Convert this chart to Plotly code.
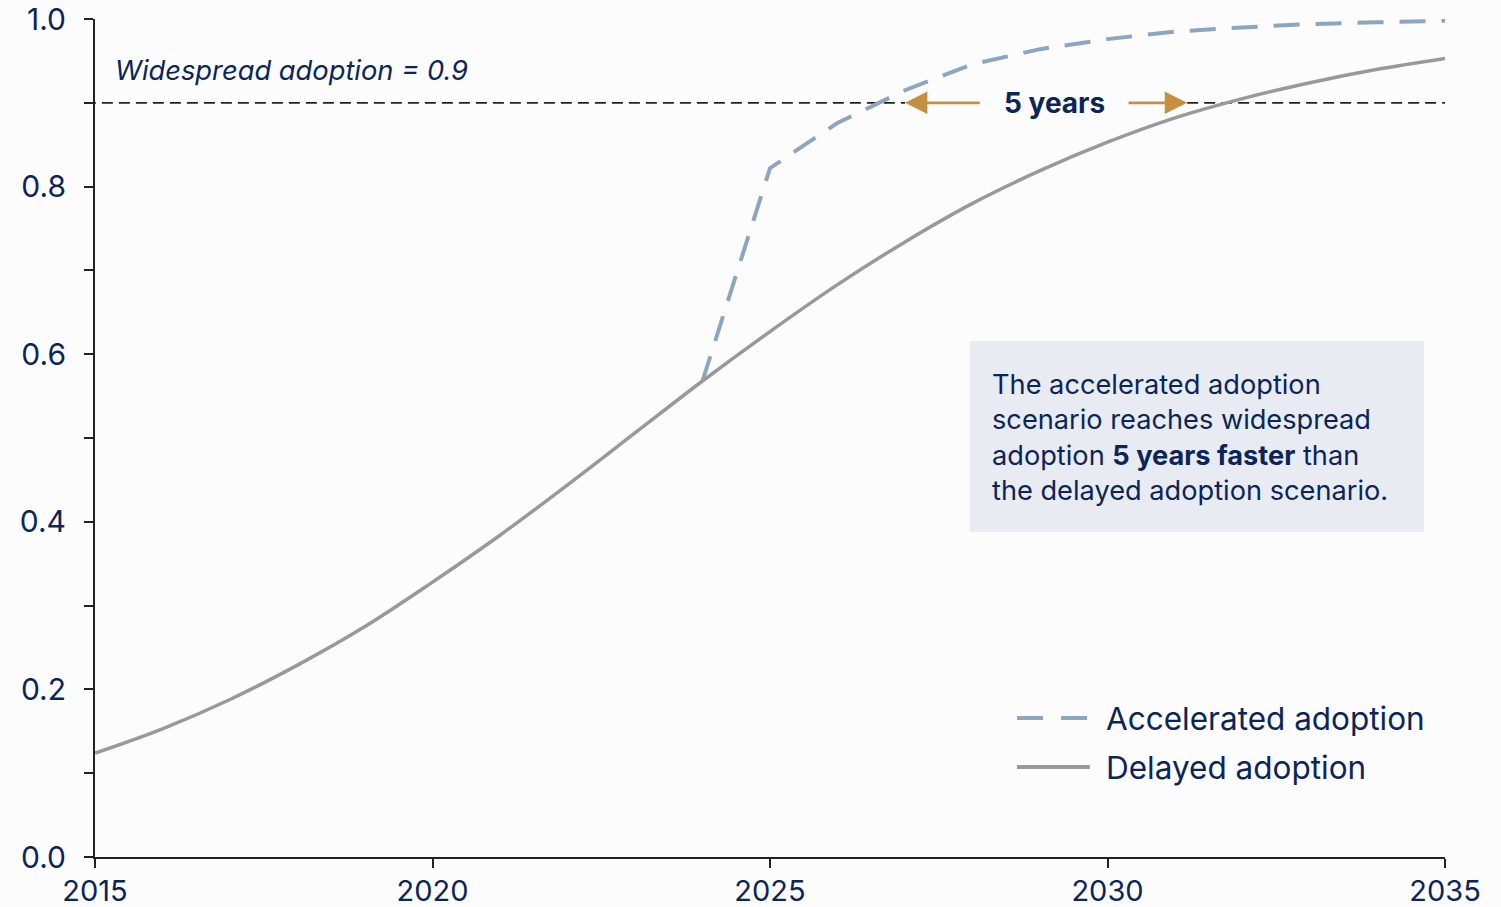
import plotly.graph_objects as go

# Adoption share by year for the two scenarios
years = list(range(2015, 2036))
delayed = [0.124, 0.153, 0.188, 0.229, 0.275, 0.328, 0.384, 0.444, 0.506, 0.568,
           0.627, 0.683, 0.734, 0.780, 0.819, 0.853, 0.882, 0.905, 0.924, 0.940, 0.953]
accel_years = list(range(2024, 2036))
accelerated = [0.568, 0.822, 0.876, 0.915, 0.946, 0.964, 0.976, 0.985, 0.990,
               0.994, 0.996, 0.998]

threshold = 0.9
y_ticks = [0.0, 0.1, 0.2, 0.3, 0.4, 0.5, 0.6, 0.7, 0.8, 0.9, 1.0]
y_tick_text = ["0.0", "", "0.2", "", "0.4", "", "0.6", "", "0.8", "", "1.0"]
x_ticks = [2015, 2020, 2025, 2030, 2035]

NAVY = "#0b2559"
ACCEL = "#8da5bf"
DELAY = "#999999"
GOLD = "#c58f40"
FONT = "Inter"

fig = go.Figure()
fig.add_trace(go.Scatter(x=accel_years, y=accelerated, mode="lines",
                         name="Accelerated adoption",
                         line=dict(color=ACCEL, width=4, dash="26px,16px")))
fig.add_trace(go.Scatter(x=years, y=delayed, mode="lines", name="Delayed adoption",
                         line=dict(color=DELAY, width=3.5, shape="spline")))

# Threshold line, broken where the "5 years" callout sits
fig.add_shape(type="line", xref="x", yref="y", x0=2014.85, x1=2027.0, y0=threshold, y1=threshold,
              line=dict(color="#222222", width=1.8, dash="11px,6px"), layer="below")
fig.add_shape(type="line", xref="x", yref="y", x0=2031.18, x1=2035, y0=threshold, y1=threshold,
              line=dict(color="#222222", width=1.8, dash="11px,6px"), layer="below")

# Gap arrows
fig.add_annotation(x=2027.0, y=threshold, ax=2028.13, ay=threshold, axref="x", ayref="y",
                   xref="x", yref="y", text="", showarrow=True, arrowhead=2,
                   arrowsize=1.6, arrowwidth=2.8, arrowcolor=GOLD)
fig.add_annotation(x=2031.18, y=threshold, ax=2030.29, ay=threshold, axref="x", ayref="y",
                   xref="x", yref="y", text="", showarrow=True, arrowhead=2,
                   arrowsize=1.6, arrowwidth=2.8, arrowcolor=GOLD)
fig.add_annotation(x=2029.22, y=threshold, xref="x", yref="y", text="<b>5 years</b>",
                   showarrow=False, font=dict(family=FONT, size=28, color=NAVY))

fig.add_annotation(x=2015.27, y=0.939, xref="x", yref="y", xanchor="left",
                   text="<i>Widespread adoption = 0.9</i>", showarrow=False,
                   font=dict(family=FONT, size=27.3, color=NAVY))

# Explanatory box
fig.add_shape(type="rect", xref="x", yref="y", x0=2027.96, x1=2034.69, y0=0.3878, y1=0.6158,
              fillcolor="#e8ebf1", line=dict(width=0), layer="below")
fig.add_annotation(x=2028.26, y=0.501, xref="x", yref="y", xanchor="left", align="left",
                   showarrow=False,
                   text=("The accelerated adoption<br>scenario reaches widespread<br>"
                         "adoption <b>5 years faster</b> than<br>the delayed adoption scenario."),
                   font=dict(family=FONT, size=27.2, color=NAVY))

# Legend drawn with line samples and labels
legend_rows = [("Accelerated adoption", ACCEL, "26px,18px", 0.1658),
               ("Delayed adoption", DELAY, "solid", 0.1074)]
for label, color, dash, ly in legend_rows:
    fig.add_shape(type="line", xref="x", yref="y", x0=2028.66, x1=2029.74, y0=ly, y1=ly,
                  line=dict(color=color, width=4, dash=dash))
    fig.add_annotation(x=2029.95, y=ly, xref="x", yref="y", xanchor="left", text=label,
                       showarrow=False, font=dict(family=FONT, size=31.5, color=NAVY))

fig.update_layout(
    width=1501, height=907,
    margin=dict(l=95, r=56, t=19, b=50),
    paper_bgcolor="#fcfcfc", plot_bgcolor="#fcfcfc",
    showlegend=False,
    font=dict(family=FONT, size=26, color=NAVY),
)
fig.update_xaxes(range=[2015, 2035], tickvals=x_ticks, ticks="outside", ticklen=9,
                 tickwidth=1.5, tickcolor="#222222", showline=True, linecolor="#222222",
                 linewidth=2, showgrid=False, zeroline=False, automargin=False,
                 ticklabelstandoff=-2,
                 tickfont=dict(family=FONT, size=29, color=NAVY))
fig.update_yaxes(range=[0, 1], tickvals=y_ticks, ticktext=y_tick_text, ticks="outside",
                 ticklen=9, tickwidth=1.5, tickcolor="#222222", showline=True,
                 linecolor="#222222", linewidth=2, showgrid=False, zeroline=False,
                 automargin=False, ticklabelstandoff=12,
                 tickfont=dict(family=FONT, size=30, color=NAVY))

fig.write_html("out.html")
